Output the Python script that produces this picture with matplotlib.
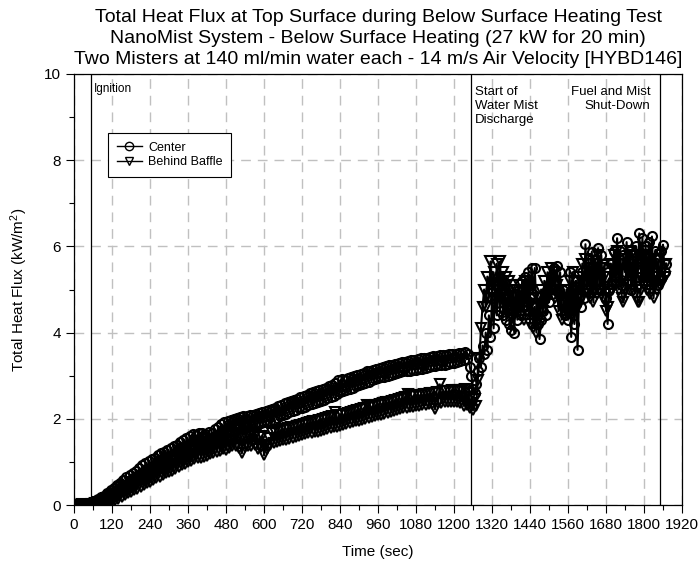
import numpy as np
import matplotlib
matplotlib.use("Agg")
import matplotlib.pyplot as plt
from matplotlib.ticker import MultipleLocator

plt.rcParams['font.family'] = ['Liberation Sans', 'DejaVu Sans']
plt.rcParams['mathtext.fontset'] = 'custom'
plt.rcParams['mathtext.rm'] = 'Liberation Sans'
plt.rcParams['mathtext.it'] = 'Liberation Sans:italic'

# sample times (s), one value every 5 s
time_s = np.arange(0, 1871, 5)

center = [
    0.00, 0.02, 0.00, 0.03, 0.01, 0.02, 0.00, 0.03, 0.01, 0.02, 0.03, 0.06, 0.02, 0.10, 0.04, 0.14, 0.06, 0.18, 0.09, 0.22,
    0.10, 0.28, 0.14, 0.34, 0.18, 0.40, 0.22, 0.46, 0.27, 0.52, 0.32, 0.58, 0.36, 0.64, 0.40, 0.70, 0.45, 0.74, 0.50, 0.80,
    0.55, 0.86, 0.60, 0.92, 0.64, 0.98, 0.68, 1.02, 0.72, 1.06, 0.78, 1.10, 0.82, 1.15, 0.86, 1.20, 0.90, 1.24, 0.95, 1.28,
    1.00, 1.32, 1.04, 1.36, 1.08, 1.40, 1.12, 1.46, 1.16, 1.50, 1.20, 1.56, 1.24, 1.60, 1.28, 1.64, 1.32, 1.62, 1.34, 1.66,
    1.38, 1.68, 1.40, 1.64, 1.42, 1.70, 1.44, 1.66, 1.50, 1.76, 1.54, 1.82, 1.58, 1.88, 1.62, 1.92, 1.66, 1.96, 1.70, 1.98,
    1.74, 2.00, 1.76, 2.02, 1.78, 2.04, 1.76, 2.06, 1.80, 2.06, 1.82, 2.08, 1.84, 2.10, 1.86, 2.12, 1.88, 2.14, 1.90, 2.16,
    1.92, 2.18, 1.94, 2.20, 1.96, 2.22, 1.98, 2.26, 2.02, 2.30, 2.06, 2.32, 2.08, 2.36, 2.12, 2.40, 2.16, 2.42, 2.18, 2.44,
    2.20, 2.46, 2.24, 2.50, 2.26, 2.52, 2.28, 2.56, 2.32, 2.60, 2.34, 2.62, 2.36, 2.64, 2.40, 2.68, 2.42, 2.70, 2.44, 2.72,
    2.48, 2.76, 2.50, 2.78, 2.54, 2.82, 2.58, 2.90, 2.62, 2.92, 2.64, 2.90, 2.66, 2.94, 2.70, 2.96, 2.72, 3.00, 2.76, 3.02,
    2.78, 3.04, 2.80, 3.06, 2.84, 3.10, 2.86, 3.12, 2.90, 3.14, 2.92, 3.16, 2.94, 3.18, 2.96, 3.20, 2.98, 3.22, 3.00, 3.24,
    3.02, 3.26, 3.04, 3.28, 3.06, 3.30, 3.08, 3.32, 3.10, 3.32, 3.10, 3.34, 3.12, 3.36, 3.14, 3.36, 3.14, 3.38, 3.16, 3.40,
    3.16, 3.42, 3.18, 3.42, 3.20, 3.44, 3.22, 3.46, 3.22, 3.46, 3.24, 3.48, 3.26, 3.48, 3.26, 3.48, 3.28, 3.50, 3.30, 3.50,
    3.30, 3.50, 3.32, 3.52, 3.34, 3.52, 3.36, 3.54, 3.38, 3.50, 3.20, 3.00, 2.70, 2.60, 2.80, 3.10, 3.40, 3.20, 3.70, 3.50,
    4.00, 3.60, 4.40, 3.90, 4.80, 4.10, 5.10, 4.40, 5.20, 4.50, 5.10, 4.40, 5.00, 4.30, 4.90, 4.20, 4.05, 4.70, 4.00, 4.90,
    4.30, 5.00, 4.40, 5.20, 4.60, 5.30, 4.70, 5.40, 4.80, 5.50, 4.90, 5.50, 4.60, 4.20, 3.85, 4.30, 4.50, 4.80, 4.40, 5.00,
    4.70, 5.30, 4.90, 5.50, 5.00, 5.55, 5.00, 5.40, 4.70, 5.00, 4.40, 4.60, 4.30, 5.40, 3.90, 5.00, 4.20, 5.20, 3.60, 4.80,
    4.60, 5.40, 4.80, 6.05, 5.00, 5.70, 5.10, 5.88, 5.00, 5.70, 5.20, 5.96, 5.00, 5.80, 5.10, 5.60, 4.80, 4.20, 5.00, 5.60,
    5.20, 5.90, 5.30, 6.19, 5.20, 5.90, 5.10, 5.80, 5.40, 6.10, 5.20, 5.90, 5.00, 5.80, 5.20, 6.00, 5.30, 6.30, 5.40, 6.20,
    5.30, 6.00, 5.20, 6.10, 5.30, 6.23, 5.20, 5.90, 5.40, 5.10, 5.30, 5.90, 6.04, 5.40, 5.60,
]

behind_baffle = [
    0.00, 0.01, 0.00, 0.01, 0.00, 0.02, 0.00, 0.01, 0.00, 0.01, 0.00, 0.02, 0.01, 0.04, 0.00, 0.06, 0.02, 0.09, 0.03, 0.12,
    0.04, 0.16, 0.06, 0.20, 0.09, 0.25, 0.12, 0.30, 0.15, 0.35, 0.19, 0.40, 0.23, 0.45, 0.27, 0.50, 0.30, 0.54, 0.34, 0.58,
    0.38, 0.62, 0.42, 0.66, 0.46, 0.72, 0.50, 0.76, 0.54, 0.80, 0.58, 0.84, 0.62, 0.88, 0.66, 0.92, 0.70, 0.96, 0.74, 1.00,
    0.76, 1.04, 0.80, 1.08, 0.84, 1.12, 0.88, 1.16, 0.92, 1.20, 0.96, 1.24, 1.00, 1.28, 1.02, 1.32, 1.06, 1.36, 1.08, 1.40,
    1.10, 1.42, 1.12, 1.44, 1.14, 1.46, 1.18, 1.50, 1.20, 1.52, 1.24, 1.56, 1.26, 1.58, 1.30, 1.62, 1.28, 1.64, 1.32, 1.66,
    1.36, 1.68, 1.38, 1.66, 1.32, 1.62, 1.20, 1.60, 1.34, 1.64, 1.36, 1.66, 1.38, 1.68, 1.40, 1.64, 1.30, 1.58, 1.34, 1.60,
    1.15, 1.40, 1.30, 1.56, 1.40, 1.66, 1.44, 1.70, 1.46, 1.72, 1.48, 1.74, 1.50, 1.76, 1.52, 1.78, 1.54, 1.80, 1.56, 1.82,
    1.58, 1.84, 1.60, 1.86, 1.62, 1.88, 1.64, 1.90, 1.66, 1.92, 1.68, 1.94, 1.70, 1.96, 1.70, 1.98, 1.72, 2.00, 1.74, 2.02,
    1.76, 2.04, 1.78, 2.06, 1.80, 2.16, 1.82, 2.08, 1.84, 2.10, 1.86, 2.12, 1.88, 2.14, 1.90, 2.16, 1.92, 2.18, 1.94, 2.20,
    1.96, 2.22, 1.98, 2.24, 2.00, 2.32, 2.02, 2.28, 2.04, 2.30, 2.06, 2.32, 2.08, 2.34, 2.10, 2.36, 2.12, 2.38, 2.14, 2.40,
    2.16, 2.42, 2.18, 2.44, 2.20, 2.46, 2.22, 2.48, 2.24, 2.50, 2.26, 2.58, 2.28, 2.52, 2.28, 2.54, 2.30, 2.55, 2.30, 2.56,
    2.32, 2.57, 2.32, 2.58, 2.34, 2.60, 2.34, 2.60, 2.22, 2.62, 2.36, 2.80, 2.36, 2.64, 2.38, 2.64, 2.38, 2.65, 2.40, 2.66,
    2.40, 2.66, 2.38, 2.68, 2.36, 2.64, 2.30, 2.70, 2.32, 2.60, 2.25, 2.50, 2.20, 2.45, 2.30, 2.90, 3.40, 4.10, 4.60, 5.00,
    4.60, 5.30, 4.80, 5.65, 4.90, 5.40, 4.80, 5.60, 5.00, 5.65, 4.90, 5.40, 4.80, 5.30, 4.60, 5.20, 4.50, 5.10, 4.40, 5.00,
    4.50, 5.10, 4.40, 5.00, 4.30, 5.20, 4.50, 5.00, 4.20, 4.80, 4.10, 4.60, 4.00, 4.80, 4.20, 5.00, 4.50, 5.20, 4.70, 5.40,
    4.90, 5.50, 5.00, 5.40, 4.80, 5.10, 4.50, 4.80, 4.30, 4.70, 4.40, 5.00, 4.50, 5.20, 4.60, 5.40, 4.50, 5.20, 4.60, 5.30,
    4.80, 5.60, 4.90, 5.70, 5.00, 5.50, 4.80, 5.40, 4.70, 5.60, 4.90, 5.80, 5.00, 5.50, 4.80, 5.30, 4.50, 4.60, 4.90, 5.60,
    5.00, 5.80, 5.10, 5.90, 5.00, 5.60, 4.80, 4.70, 5.00, 5.70, 5.10, 5.90, 5.00, 5.80, 4.90, 5.50, 4.70, 4.70, 5.00, 5.80,
    5.10, 5.90, 5.00, 5.70, 4.90, 5.60, 4.80, 5.30, 5.00, 5.70, 5.10, 5.80, 5.20, 5.30, 5.60,
]

event_times = [53, 1252, 1849]
x_ticks = list(range(0, 1921, 120))
title_lines = [
    "Total Heat Flux at Top Surface during Below Surface Heating Test",
    "NanoMist System - Below Surface Heating (27 kW for 20 min)",
    "Two Misters at 140 ml/min water each - 14 m/s Air Velocity [HYBD146]",
]

fig = plt.figure(figsize=(6.99, 5.67), dpi=100)
ax = fig.add_axes([0.106, 0.1093, 0.8697, 0.7602])

ax.plot(time_s, center, color='black', lw=1.5, marker='o', ms=6.5,
        mfc='none', mec='black', mew=1.5, label='Center', zorder=3)
ax.plot(time_s, behind_baffle, color='black', lw=1.5, marker='v', ms=6.5,
        mfc='none', mec='black', mew=1.5, label='Behind Baffle', zorder=3)

for t in event_times:
    ax.axvline(t, color='black', lw=0.9, zorder=2)

ax.set_xlim(0, 1920)
ax.set_ylim(0, 10)
ax.set_xticks(x_ticks)
ax.xaxis.set_minor_locator(MultipleLocator(60))
ax.yaxis.set_major_locator(MultipleLocator(2))
ax.yaxis.set_minor_locator(MultipleLocator(1))
ax.tick_params(which='major', direction='out', length=6, width=0.8, labelsize=11)
ax.tick_params(which='minor', direction='out', length=3.5, width=0.8)
ax.tick_params(top=False, right=False)

ax.grid(True, which='major', color='#c0c0c0', linestyle=(0, (7, 5)), lw=1.0, zorder=0)
ax.set_axisbelow(True)
for s in ax.spines.values():
    s.set_linewidth(0.9)

ax.set_xlabel('Time (sec)', fontsize=11, labelpad=9)
ax.set_ylabel('Total Heat Flux (kW/m$^2$)', fontsize=11, labelpad=10)

ax.set_title("\n".join(title_lines), fontsize=14, linespacing=1.3, pad=7)

ax.text(62, 9.8, 'Ignition', fontsize=8.5, va='top', ha='left')
ax.text(1265, 9.72, 'Start of\nWater Mist\nDischarge', fontsize=9.5, va='top', ha='left',
        linespacing=1.2)
ax.text(1820, 9.72, 'Fuel and Mist\nShut-Down', fontsize=9.5, va='top', ha='right',
        linespacing=1.2)

leg = ax.legend(loc='upper left', bbox_to_anchor=(0.056, 0.863), fontsize=9,
                frameon=True, fancybox=False, edgecolor='black', framealpha=1,
                handlelength=2.0, borderpad=0.7, labelspacing=0.2, handletextpad=0.5,
                borderaxespad=0)
leg.get_frame().set_linewidth(0.8)
for h in leg.legend_handles:
    h.set_markersize(6)
    h.set_markeredgewidth(1.0)
    h.set_linewidth(1.0)

fig.savefig('out.png', dpi=100)
